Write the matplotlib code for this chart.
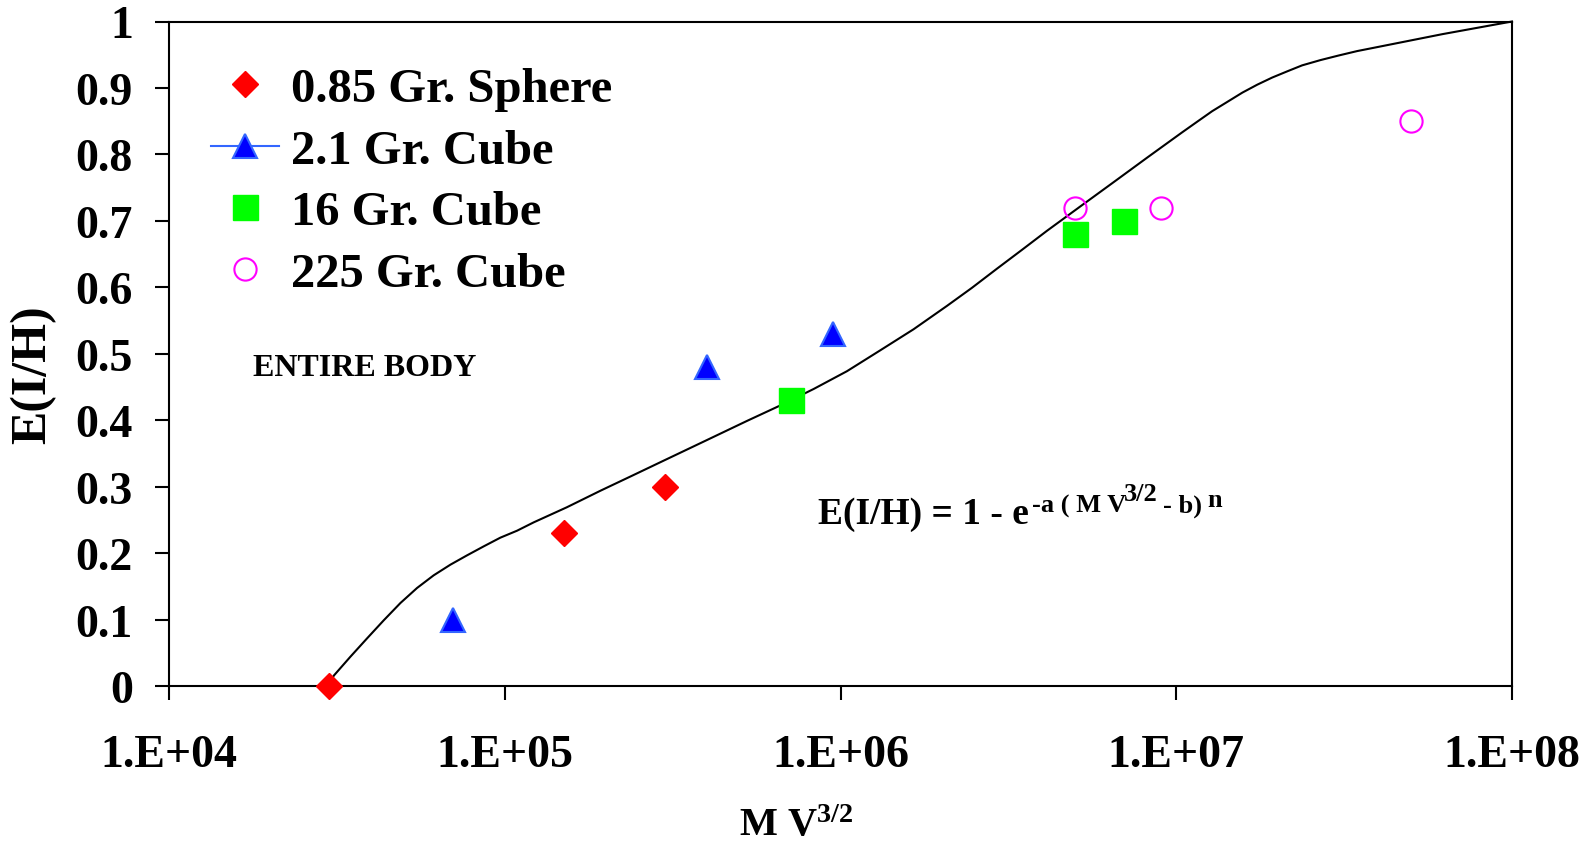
import numpy as np
import matplotlib
matplotlib.use("Agg")
import matplotlib.pyplot as plt
from matplotlib.lines import Line2D
from matplotlib.ticker import FixedLocator, FuncFormatter, NullLocator

plt.rcParams['font.family'] = 'Liberation Serif'
plt.rcParams['font.weight'] = 'bold'
plt.rcParams['mathtext.fontset'] = 'custom'
plt.rcParams['mathtext.rm'] = 'Liberation Serif:bold'
plt.rcParams['mathtext.it'] = 'Liberation Serif:bold'
plt.rcParams['mathtext.bf'] = 'Liberation Serif:bold'

# measured points
sphere_x = [3.0e4, 1.5e5, 3.0e5]
sphere_y = [0.0, 0.23, 0.30]
cube21_x = [7.0e4, 4.0e5, 9.5e5]
cube21_y = [0.10, 0.48, 0.53]
cube16_x = [7.1e5, 5.0e6, 7.0e6]
cube16_y = [0.43, 0.68, 0.70]
cube225_x = [5.0e6, 9.0e6, 5.0e7]
cube225_y = [0.72, 0.72, 0.85]

# fitted curve
fit_x = [3.0e4, 3.095e4, 3.47e4, 3.89e4, 4.36e4, 4.89e4, 5.48e4, 6.14e4, 6.89e4,
         7.72e4, 8.66e4, 9.70e4, 1.088e5, 1.22e5, 1.53e5, 1.93e5, 2.396e5,
         2.97e5, 3.958e5, 5.27e5, 6.63e5, 8.32e5, 1.045e6, 1.312e6, 1.65e6,
         2.075e6, 2.463e6, 2.924e6, 3.47e6, 4.12e6, 5.176e6, 6.50e6, 8.22e6,
         1.04e7, 1.153e7, 1.279e7, 1.419e7, 1.574e7, 1.744e7, 1.932e7, 2.141e7,
         2.371e7, 2.692e7, 3.055e7, 3.459e7, 3.926e7, 6.21e7, 1.0e8]
fit_y = [0.0, 0.0155, 0.0441, 0.0717, 0.0988, 0.1249, 0.1475, 0.1665, 0.1826,
         0.1966, 0.2102, 0.2232, 0.2337, 0.2463, 0.2689, 0.294, 0.3165,
         0.339, 0.369, 0.399, 0.4224, 0.447, 0.4737, 0.505, 0.5368,
         0.572, 0.5992, 0.628, 0.6563, 0.685, 0.7216, 0.758, 0.7957,
         0.833, 0.849, 0.865, 0.879, 0.893, 0.905, 0.9157, 0.925,
         0.934, 0.942, 0.949, 0.9555, 0.961, 0.981, 1.0]

labels = ["0.85 Gr. Sphere", "2.1 Gr. Cube", "16 Gr. Cube", "225 Gr. Cube"]
x_ticks = [1e4, 1e5, 1e6, 1e7, 1e8]
y_ticks = [0, 0.1, 0.2, 0.3, 0.4, 0.5, 0.6, 0.7, 0.8, 0.9, 1.0]

W, H = 1595, 845
fig = plt.figure(figsize=(W / 100, H / 100), dpi=100)
ax = fig.add_axes([169 / W, 1 - 687 / H, (1512 - 169) / W, (687 - 22.5) / H])

ax.plot(fit_x, fit_y, color='black', lw=1.5, zorder=2, clip_on=False,
        solid_joinstyle='round')
ax.plot(sphere_x, sphere_y, ls='none', marker='D', ms=13, mfc='#FF0000', mec='#FF0000',
        zorder=3, clip_on=False)
ax.plot(cube21_x, cube21_y, ls='none', marker='^', ms=17, mfc='#0000FF', mec='#3366FF',
        mew=1.5, zorder=3)
ax.plot(cube16_x, cube16_y, ls='none', marker='s', ms=18, mfc='#00FF00', mec='#00FF00',
        zorder=3)
ax.plot(cube225_x, cube225_y, ls='none', marker='o', ms=16, mfc='none', mec='#FF00FF',
        mew=1.5, zorder=3)

ax.set_xscale('log')
ax.set_xlim(1e4, 1e8)
ax.set_ylim(0, 1)
ax.xaxis.set_major_locator(FixedLocator(x_ticks))
ax.xaxis.set_minor_locator(NullLocator())
ax.xaxis.set_major_formatter(FuncFormatter(lambda v, p: "1.E+%02d" % round(np.log10(v))))
ax.yaxis.set_major_locator(FixedLocator(y_ticks))
ax.yaxis.set_major_formatter(FuncFormatter(lambda v, p: "%g" % v))
ax.tick_params(axis='both', direction='out', length=10, width=1.5, labelsize=33)
ax.tick_params(axis='x', pad=24.5)
ax.tick_params(axis='y', pad=16)
for s in ax.spines.values():
    s.set_linewidth(1.5)

handles = [
    Line2D([], [], ls='none', marker='D', ms=13, mfc='#FF0000', mec='#FF0000'),
    Line2D([], [], color='#3366FF', lw=1.5, marker='^', ms=17, mfc='#0000FF',
           mec='#3366FF', mew=1.5),
    Line2D([], [], ls='none', marker='s', ms=18, mfc='#00FF00', mec='#00FF00'),
    Line2D([], [], ls='none', marker='o', ms=16, mfc='none', mec='#FF00FF', mew=1.5),
]
ax.legend(handles, labels, loc='upper left', bbox_to_anchor=(211 / W, 1 - 68 / H),
          bbox_transform=fig.transFigure, frameon=False, fontsize=35,
          handlelength=1.4, handletextpad=0.24, labelspacing=0.36,
          borderpad=0, borderaxespad=0)

fig.text(253 / W, 1 - 376 / H, "ENTIRE BODY", fontsize=23, ha='left', va='baseline')

# equation, built from pieces
fig.text(818 / W, 1 - 524 / H, "E(I/H) = 1 - e", fontsize=27, ha='left', va='baseline')
fig.text(1032 / W, 1 - 513 / H, "-a ( M V", fontsize=19, ha='left', va='baseline')
fig.text(1124 / W, 1 - 501 / H, "3/2", fontsize=19, ha='left', va='baseline')
fig.text(1163 / W, 1 - 513 / H, "- b)", fontsize=19, ha='left', va='baseline')
fig.text(1207 / W, 1 - 507 / H, "n", fontsize=19, ha='left', va='baseline')

fig.text(33 / W, 1 - 375 / H, "E(I/H)", fontsize=36, rotation=90, ha='center', va='center')
fig.text(796 / W, 1 - 836 / H, r"M V$^{3/2}$", fontsize=29, ha='center', va='baseline')

fig.savefig("out.png", dpi=100)
